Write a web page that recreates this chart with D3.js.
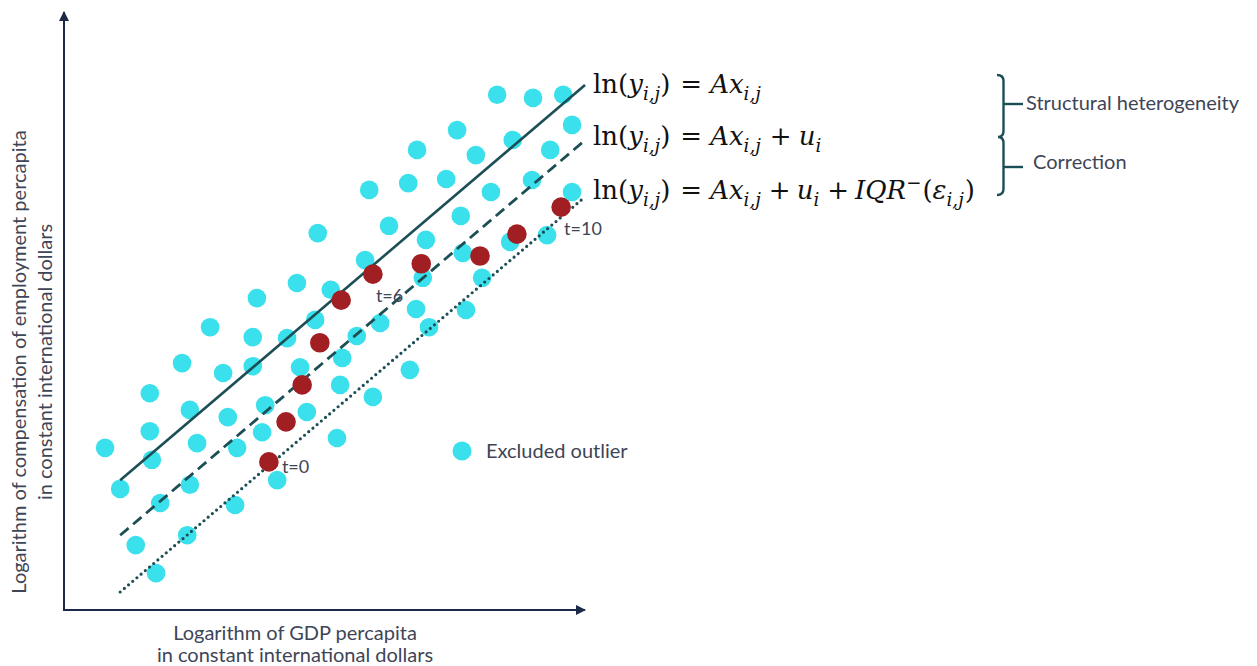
<!DOCTYPE html>
<html>
<head>
<meta charset="utf-8">
<script src="https://cdn.jsdelivr.net/npm/d3@7"></script>
<style>
  html, body { margin: 0; padding: 0; background: #ffffff; }
  svg { display: block; }
</style>
</head>
<body>
<svg id="chart" width="1257" height="666"></svg>
<script>
// Observations treated as outliers (log GDP per capita, log compensation per capita)
const outlierX = [8.33, 9.02, 9.60, 9.77, 8.63, 7.56, 9.35, 6.79, 7.92, 5.87,
                  6.62, 7.35, 8.21, 9.00, 9.77, 6.25, 7.63, 6.96, 8.58, 9.29,
                  5.79, 6.90, 7.67, 8.04, 6.77, 7.73, 7.02, 6.08, 5.63, 4.88,
                  4.48, 3.71, 5.13, 2.81, 3.63, 4.29, 4.83, 2.27, 3.06, 3.63,
                  4.54, 5.35, 1.65, 2.42, 3.15, 3.87, 4.67, 5.31, 0.79, 1.65,
                  2.56, 3.33, 3.81, 5.25, 1.69, 1.08, 2.42, 4.10, 1.85, 3.29,
                  1.38, 2.37, 1.77, 6.65, 5.94];
const outlierY = [9.87, 9.81, 9.87, 9.29, 9.00, 9.19, 8.81, 8.81, 8.71, 8.04,
                  8.17, 8.25, 8.00, 8.23, 8.00, 7.35, 7.54, 7.08, 7.04, 7.17,
                  6.69, 6.35, 6.83, 6.35, 5.75, 5.73, 5.40, 5.48, 5.23, 7.21,
                  6.25, 5.96, 6.12, 5.40, 5.21, 5.19, 5.54, 4.71, 4.52, 4.65,
                  4.63, 4.81, 4.13, 3.81, 3.67, 3.90, 3.77, 4.29, 3.08, 3.40,
                  3.17, 3.08, 3.38, 3.27, 2.85, 2.29, 2.37, 2.46, 2.02, 1.98,
                  1.21, 1.40, 0.67, 4.58, 4.06];

// Trajectory of one country over time
const pathX = [3.94, 4.27, 4.58, 4.92, 5.33, 5.94, 6.87, 8.00, 8.71, 9.56];
const pathY = [2.81, 3.58, 4.29, 5.10, 5.92, 6.42, 6.62, 6.77, 7.19, 7.71];
const pathLabels = ["t=0", "", "", "", "", "t=6", "", "", "", "t=10"];

// Fitted relations: common slope A, three intercepts
const fitSlope = 0.85;
const fitIntercepts = [1.54, 0.48, -0.61];
const fitXRange = [1.08, 10.02];

const axisTitleX = ["Logarithm of GDP percapita", "in constant international dollars"];
const axisTitleY = ["Logarithm of compensation of employment percapita", "in constant international dollars"];
const legendLabel = "Excluded outlier";
const braceLabels = ["Structural heterogeneity", "Correction"];

// Equations, one per fitted relation: [text, kind, gap before]
const formulas = [
  [["ln(", "n"], ["y", "i"], ["i,j", "sub"], [")", "n"], ["=", "n", 10], ["A", "i", 8], ["x", "i"], ["i,j", "sub"]],
  [["ln(", "n"], ["y", "i"], ["i,j", "sub"], [")", "n"], ["=", "n", 10], ["A", "i", 8], ["x", "i"], ["i,j", "sub"],
   ["+", "n", 9], ["u", "i", 7], ["i", "sub"]],
  [["ln(", "n"], ["y", "i"], ["i,j", "sub"], [")", "n"], ["=", "n", 10], ["A", "i", 8], ["x", "i"], ["i,j", "sub"],
   ["+", "n", 8], ["u", "i", 6], ["i", "sub"], ["+", "n", 8], ["IQR", "i", 6], ["\u2212", "sup"], ["(", "n", 1],
   ["\u03b5", "i"], ["i,j", "sub"], [")", "n", 1]]
];

const C = {
  axis: "#1d2a47",
  line: "#1c4f55",
  cyan: "#3ae0eb",
  red: "#a11f22",
  text: "#3e4556",
  math: "#111111"
};
const sansFont = "Lato, 'Open Sans', sans-serif";
const mathFont = "'DejaVu Serif', serif";

const svg = d3.select("#chart");

const x = d3.scaleLinear().domain([0, 10]).range([64, 584]);
const y = d3.scaleLinear().domain([0, 11.5]).range([608, 10]);

// Arrowheads for the axes
const defs = svg.append("defs");
defs.append("marker")
  .attr("id", "arrow")
  .attr("viewBox", "0 0 10 10")
  .attr("refX", 9).attr("refY", 5)
  .attr("markerWidth", 5).attr("markerHeight", 5)
  .attr("markerUnits", "strokeWidth")
  .attr("orient", "auto")
  .append("path")
  .attr("d", "M0,0 L10,5 L0,10 Z")
  .attr("fill", C.axis);

// Axes (no ticks, just the arrowed lines)
const xAxis = svg.append("g")
  .attr("transform", "translate(0,610)")
  .call(d3.axisBottom(x).tickValues([]).tickSizeOuter(0));
const yAxis = svg.append("g")
  .attr("transform", "translate(64,0)")
  .call(d3.axisLeft(y).tickValues([]).tickSizeOuter(0));
[xAxis, yAxis].forEach(a => {
  a.select(".domain")
    .attr("stroke", C.axis)
    .attr("stroke-width", 2)
    .attr("marker-end", "url(#arrow)");
});
xAxis.select(".domain").attr("d", `M${x(0)},0H${x(10) + 1}`);
yAxis.select(".domain").attr("d", `M0,${y(0) + 3}V${y(11.5) + 2}`);

// Axis titles
const xt = svg.append("text")
  .attr("font-family", sansFont).attr("font-size", 20).attr("fill", C.text)
  .attr("text-anchor", "middle");
axisTitleX.forEach((s, i) => {
  xt.append("tspan").attr("x", 295).attr("y", 640 + i * 22).text(s);
});
const yt = svg.append("text")
  .attr("font-family", sansFont).attr("font-size", 20).attr("fill", C.text)
  .attr("text-anchor", "middle")
  .attr("transform", "translate(26,362) rotate(-90)");
axisTitleY.forEach((s, i) => {
  yt.append("tspan").attr("x", 0).attr("y", i * 26).text(s);
});

// Outlier points
svg.append("g").selectAll("circle")
  .data(d3.range(outlierX.length))
  .join("circle")
  .attr("cx", i => x(outlierX[i]))
  .attr("cy", i => y(outlierY[i]))
  .attr("r", 9.3)
  .attr("fill", C.cyan);

// Fitted lines
const lineStyles = [
  { dash: null, cap: "butt", width: 2.6 },
  { dash: "11 6", cap: "butt", width: 2.8 },
  { dash: "0 5.5", cap: "round", width: 3.2 }
];
const line = d3.line().x(d => x(d[0])).y(d => y(d[1]));
fitIntercepts.forEach((b, k) => {
  const pts = fitXRange.map(v => [v, b + fitSlope * v]);
  svg.append("path")
    .attr("d", line(pts))
    .attr("fill", "none")
    .attr("stroke", C.line)
    .attr("stroke-width", lineStyles[k].width)
    .attr("stroke-linecap", lineStyles[k].cap)
    .attr("stroke-dasharray", lineStyles[k].dash);
});

// Country trajectory
svg.append("g").selectAll("circle")
  .data(d3.range(pathX.length))
  .join("circle")
  .attr("cx", i => x(pathX[i]))
  .attr("cy", i => y(pathY[i]))
  .attr("r", 9.8)
  .attr("fill", C.red);

// Time labels: first one sits beside its point, later ones just below
const labelOffset = i => (i === 0 ? [13, 11] : [3, 28]);
svg.append("g").selectAll("text")
  .data(d3.range(pathX.length).filter(i => pathLabels[i]))
  .join("text")
  .attr("x", i => x(pathX[i]) + labelOffset(i)[0])
  .attr("y", i => y(pathY[i]) + labelOffset(i)[1])
  .attr("font-family", sansFont).attr("font-size", 18).attr("fill", C.text)
  .text(i => pathLabels[i]);

// Legend
svg.append("circle").attr("cx", 462).attr("cy", 451).attr("r", 9.5).attr("fill", C.cyan);
svg.append("text")
  .attr("x", 486).attr("y", 458)
  .attr("font-family", sansFont).attr("font-size", 20).attr("fill", C.text)
  .text(legendLabel);

// Equations
function drawFormula(segs, x0, y0, size) {
  const t = svg.append("text")
    .attr("x", x0).attr("y", y0)
    .attr("font-family", mathFont).attr("font-size", size).attr("fill", C.math);
  let shift = 0;
  segs.forEach(([str, kind, gap]) => {
    const small = kind === "sub" || kind === "sup";
    const target = kind === "sub" ? size * 0.26 : kind === "sup" ? -size * 0.4 : 0;
    t.append("tspan")
      .attr("dy", target - shift)
      .attr("dx", gap || 0)
      .attr("font-style", kind === "n" ? "normal" : "italic")
      .attr("font-size", small ? size * 0.7 : size)
      .text(str);
    shift = target;
  });
}
const formulaBaselines = [93, 145, 199];
formulas.forEach((f, i) => drawFormula(f, 593, formulaBaselines[i], 26));

// Braces grouping the equations
const brace = svg.append("g")
  .attr("fill", "none").attr("stroke", C.line).attr("stroke-width", 2.4);
brace.append("path").attr("d", "M997,75 Q1003.5,75 1003.5,81 V131 Q1003.5,137 998,137 Q1003.5,137 1003.5,143 V189 Q1003.5,195 997,195");
brace.append("path").attr("d", "M1003.5,104 H1023");
brace.append("path").attr("d", "M1003.5,167 H1023");
svg.append("text")
  .attr("x", 1026).attr("y", 110)
  .attr("font-family", sansFont).attr("font-size", 20).attr("fill", C.text)
  .text(braceLabels[0]);
svg.append("text")
  .attr("x", 1033).attr("y", 169)
  .attr("font-family", sansFont).attr("font-size", 20).attr("fill", C.text)
  .text(braceLabels[1]);
</script>
</body>
</html>
